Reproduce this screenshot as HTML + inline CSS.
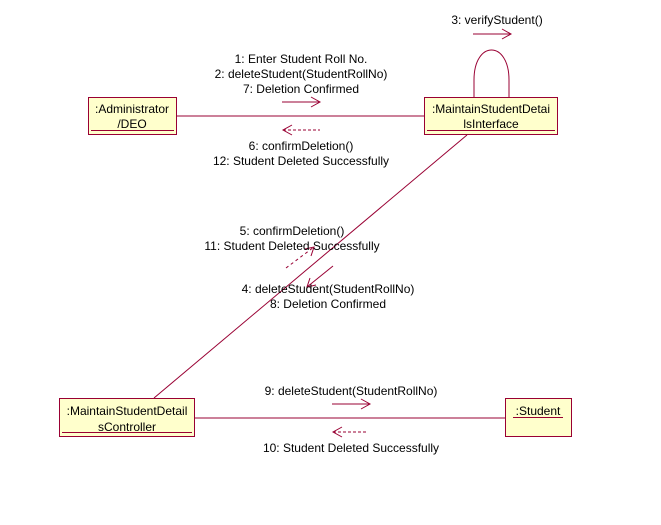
<!DOCTYPE html>
<html><head><style>
html,body{margin:0;padding:0;background:#fff;}
svg{display:block;}
text{font-family:"Liberation Sans",Arial,sans-serif;font-size:12px;fill:#000;}
</style></head><body>
<svg width="661" height="525" viewBox="0 0 661 525" xmlns="http://www.w3.org/2000/svg">
<g stroke="#990033" fill="none" stroke-width="1">
<line x1="176" y1="116" x2="424" y2="116"/>
<line x1="195" y1="418" x2="505" y2="418"/>
<line x1="467" y1="135" x2="154" y2="398"/>
<path d="M474 97 L474 80 C474 40 509 40 509 80 L509 97"/>
<line x1="282" y1="102" x2="320" y2="102"/><polyline points="311,97 320,102 311,107"/>
<line x1="283" y1="130" x2="320" y2="130" stroke-dasharray="3,2"/><polyline points="292,125 283,130 292,135"/>
<line x1="473" y1="34" x2="511" y2="34"/><polyline points="502,29 511,34 502,39"/>
<line x1="332" y1="404" x2="370" y2="404"/><polyline points="361,399 370,404 361,409"/>
<line x1="333" y1="432" x2="368" y2="432" stroke-dasharray="3,2"/><polyline points="342,427 333,432 342,437"/>
<line x1="333" y1="266" x2="307" y2="287"/><polyline points="310,278 307,287 316,285"/>
<line x1="286" y1="268" x2="314" y2="247" stroke-dasharray="3,3"/><polyline points="305,249 314,247 311,256"/>
</g>
<g fill="#ffffcc" stroke="#990033" stroke-width="1">
<rect x="88.5" y="97.5" width="88" height="37"/>
<rect x="424.5" y="97.5" width="133" height="37"/>
<rect x="59.5" y="398.5" width="135" height="38"/>
<rect x="505.5" y="398.5" width="66" height="38"/>
</g>
<g stroke="#990033">
<line x1="91" y1="130.5" x2="174" y2="130.5"/>
<line x1="427" y1="130.5" x2="555" y2="130.5"/>
<line x1="62" y1="432.5" x2="192" y2="432.5"/>
<line x1="513" y1="417.5" x2="563" y2="417.5"/>
</g>
<text x="132" y="113" text-anchor="middle">:Administrator</text>
<text x="132" y="128" text-anchor="middle">/DEO</text>
<text x="491" y="113" text-anchor="middle">:MaintainStudentDetai</text>
<text x="491" y="128" text-anchor="middle">lsInterface</text>
<text x="127" y="415" text-anchor="middle">:MaintainStudentDetail</text>
<text x="127" y="431" text-anchor="middle">sController</text>
<text x="538" y="415" text-anchor="middle">:Student</text>

<text x="301" y="63" text-anchor="middle">1: Enter Student Roll No.</text>
<text x="301" y="78" text-anchor="middle">2: deleteStudent(StudentRollNo)</text>
<text x="301" y="93" text-anchor="middle">7: Deletion Confirmed</text>
<text x="497" y="24" text-anchor="middle">3: verifyStudent()</text>
<text x="301" y="150" text-anchor="middle">6: confirmDeletion()</text>
<text x="301" y="165" text-anchor="middle">12: Student Deleted Successfully</text>
<text x="292" y="235" text-anchor="middle">5: confirmDeletion()</text>
<text x="292" y="250" text-anchor="middle">11: Student Deleted Successfully</text>
<text x="328" y="293" text-anchor="middle">4: deleteStudent(StudentRollNo)</text>
<text x="328" y="308" text-anchor="middle">8: Deletion Confirmed</text>
<text x="351" y="395" text-anchor="middle">9: deleteStudent(StudentRollNo)</text>
<text x="351" y="452" text-anchor="middle">10: Student Deleted Successfully</text>
</svg>
</body></html>
